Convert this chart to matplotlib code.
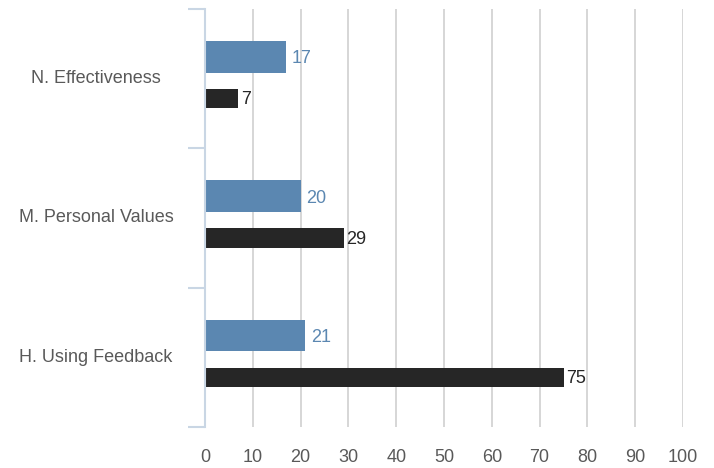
import matplotlib
matplotlib.use("Agg")
import matplotlib.pyplot as plt
import numpy as np

plt.rcParams['font.family'] = ['Liberation Sans', 'DejaVu Sans']

categories = ["H. Using Feedback", "M. Personal Values", "N. Effectiveness"]
series_a = [21, 20, 17]
series_b = [75, 29, 7]
x_ticks = [0, 10, 20, 30, 40, 50, 60, 70, 80, 90, 100]

blue = "#5b87b1"
dark = "#262626"
text_gray = "#595959"
axis_blue = "#c9d6e4"

fig = plt.figure(figsize=(7.14, 4.68), dpi=100)
ax = fig.add_axes([205 / 714, 41 / 468, 478 / 714, 418 / 468])

y = np.arange(len(categories))
ax.barh(y + 0.157, series_a, height=0.229, color=blue, zorder=3)
ax.barh(y - 0.143, series_b, height=0.139, color=dark, zorder=3)

for yi, v in zip(y, series_a):
    ax.text(v + 1.2, yi + 0.157 - 0.015, str(v), color=blue, fontsize=13,
            va="center", ha="left")
for yi, v in zip(y, series_b):
    ax.text(v + 0.6, yi - 0.143 - 0.01, str(v), color=dark, fontsize=13,
            va="center", ha="left")

ax.set_xlim(0, 100)
ax.set_ylim(-0.5, len(categories) - 0.5)
ax.set_xticks(x_ticks)
ax.tick_params(axis="x", length=0, pad=16, labelsize=13, labelcolor=text_gray)

# category boundaries carry the tick marks; labels sit at band centres
ax.set_yticks(np.arange(-0.5, len(categories), 1.0))
ax.set_yticklabels([])
ax.tick_params(axis="y", which="major", length=12.2, width=1.5, color=axis_blue)

for yi, name in zip(y, categories):
    fig.text(96 / 714, 0, name, fontsize=13, color=text_gray, ha="center",
             va="center", transform=matplotlib.transforms.blended_transform_factory(
                 fig.transFigure, ax.transData), position=(96 / 714, yi))

ax.grid(axis="x", color="#cccccc", linewidth=1.1, zorder=0)
ax.set_axisbelow(True)
for s in ["top", "right", "bottom"]:
    ax.spines[s].set_visible(False)
ax.spines["left"].set_color(axis_blue)
ax.spines["left"].set_linewidth(1.5)
ax.spines["left"].set_zorder(4)

fig.savefig("out.png", dpi=100)
